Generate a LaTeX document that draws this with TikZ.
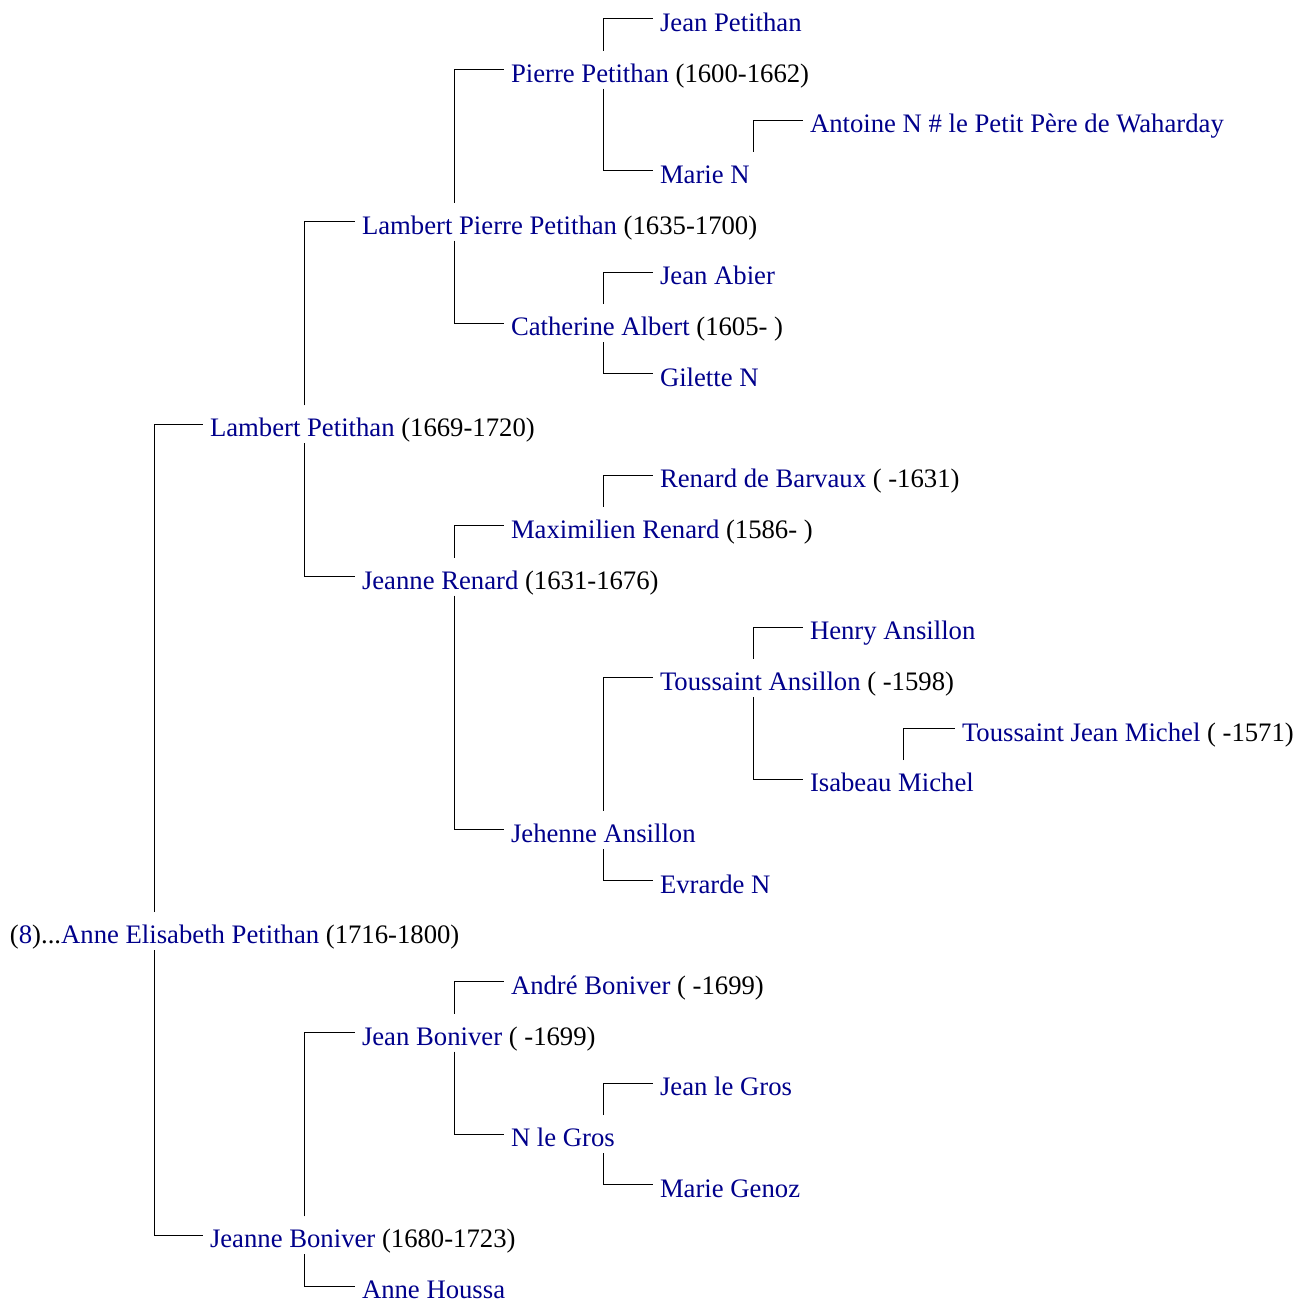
\documentclass[tikz,border=0pt]{standalone}
\usepackage{fontspec}
\setmainfont{Liberation Serif}
\usepackage{xcolor}
\definecolor{nameblue}{RGB}{0,0,139}
\newcommand{\nm}[1]{\textcolor{nameblue}{#1}}

\begin{document}
\begin{tikzpicture}[x=0.5pt, y=-0.5pt,
    person/.style={anchor=west, inner xsep=3.5pt, inner ysep=0pt, outer sep=0pt,
        text height=15.8pt, text depth=3.2pt, font=\fontsize{13.35}{16}\selectfont},
    link/.style={line width=0.5pt}]
    \useasboundingbox (0,0) rectangle (1301,1304);

    % generazione 0
    \node[person] (anne) at (3,931.2) {(\nm{8})...\nm{Anne Elisabeth Petithan} (1716-1800)};

    % generazione 1
    \node[person] (lambert) at (203,424.4) {\nm{Lambert Petithan} (1669-1720)};
    \node[person] (jeanneb) at (203,1235.3) {\nm{Jeanne Boniver} (1680-1723)};

    % generazione 2
    \node[person] (lambertp) at (355,221.7) {\nm{Lambert Pierre Petithan} (1635-1700)};
    \node[person] (jeanner) at (355,576.5) {\nm{Jeanne Renard} (1631-1676)};
    \node[person] (jeanb) at (355,1032.6) {\nm{Jean Boniver} ( -1699)};
    \node[person] (anneh) at (355,1286) {\nm{Anne Houssa}};

    % generazione 3
    \node[person] (pierre) at (504,69.7) {\nm{Pierre Petithan} (1600-1662)};
    \node[person] (catherine) at (504,323.1) {\nm{Catherine Albert} (1605- )};
    \node[person] (maximilien) at (504,525.8) {\nm{Maximilien Renard} (1586- )};
    \node[person] (jehenne) at (504,829.9) {\nm{Jehenne Ansillon}};
    \node[person] (andre) at (504,981.9) {\nm{André Boniver} ( -1699)};
    \node[person] (nlegros) at (504,1134) {\nm{N le Gros}};

    % generazione 4
    \node[person] (jeanp) at (653,19) {\nm{Jean Petithan}};
    \node[person] (marien) at (653,171) {\nm{Marie N}};
    \node[person] (jeana) at (653,272.4) {\nm{Jean Abier}};
    \node[person] (gilette) at (653,373.8) {\nm{Gilette N}};
    \node[person] (renard) at (653,475.1) {\nm{Renard de Barvaux} ( -1631)};
    \node[person] (toussaint) at (653,677.8) {\nm{Toussaint Ansillon} ( -1598)};
    \node[person] (evrarde) at (653,880.6) {\nm{Evrarde N}};
    \node[person] (jeanlg) at (653,1083.3) {\nm{Jean le Gros}};
    \node[person] (marieg) at (653,1184.6) {\nm{Marie Genoz}};

    % generazione 5
    \node[person] (antoine) at (803,120.4) {\nm{Antoine N \# le Petit Père de Waharday}};
    \node[person] (henry) at (803,627.2) {\nm{Henry Ansillon}};
    \node[person] (isabeau) at (803,779.2) {\nm{Isabeau Michel}};

    % generazione 6
    \node[person] (toussaintm) at (955,728.5) {\nm{Toussaint Jean Michel} ( -1571)};

    % collegamenti
    \draw[link] ([xshift=-24.5pt]lambert.west |- anne.north) |- (lambert.west);
    \draw[link] ([xshift=-24.5pt]jeanneb.west |- anne.south) |- (jeanneb.west);

    \draw[link] ([xshift=-25.5pt]lambertp.west |- lambert.north) |- (lambertp.west);
    \draw[link] ([xshift=-25.5pt]jeanner.west |- lambert.south) |- (jeanner.west);
    \draw[link] ([xshift=-25.5pt]jeanb.west |- jeanneb.north) |- (jeanb.west);
    \draw[link] ([xshift=-25.5pt]anneh.west |- jeanneb.south) |- (anneh.west);

    \draw[link] ([xshift=-25pt]pierre.west |- lambertp.north) |- (pierre.west);
    \draw[link] ([xshift=-25pt]catherine.west |- lambertp.south) |- (catherine.west);
    \draw[link] ([xshift=-25pt]maximilien.west |- jeanner.north) |- (maximilien.west);
    \draw[link] ([xshift=-25pt]jehenne.west |- jeanner.south) |- (jehenne.west);
    \draw[link] ([xshift=-25pt]andre.west |- jeanb.north) |- (andre.west);
    \draw[link] ([xshift=-25pt]nlegros.west |- jeanb.south) |- (nlegros.west);

    \draw[link] ([xshift=-25pt]jeanp.west |- pierre.north) |- (jeanp.west);
    \draw[link] ([xshift=-25pt]marien.west |- pierre.south) |- (marien.west);
    \draw[link] ([xshift=-25pt]jeana.west |- catherine.north) |- (jeana.west);
    \draw[link] ([xshift=-25pt]gilette.west |- catherine.south) |- (gilette.west);
    \draw[link] ([xshift=-25pt]renard.west |- maximilien.north) |- (renard.west);
    \draw[link] ([xshift=-25pt]toussaint.west |- jehenne.north) |- (toussaint.west);
    \draw[link] ([xshift=-25pt]evrarde.west |- jehenne.south) |- (evrarde.west);
    \draw[link] ([xshift=-25pt]jeanlg.west |- nlegros.north) |- (jeanlg.west);
    \draw[link] ([xshift=-25pt]marieg.west |- nlegros.south) |- (marieg.west);

    \draw[link] ([xshift=-25pt]antoine.west |- marien.north) |- (antoine.west);
    \draw[link] ([xshift=-25pt]henry.west |- toussaint.north) |- (henry.west);
    \draw[link] ([xshift=-25pt]isabeau.west |- toussaint.south) |- (isabeau.west);

    \draw[link] ([xshift=-26pt]toussaintm.west |- isabeau.north) |- (toussaintm.west);
\end{tikzpicture}
\end{document}
